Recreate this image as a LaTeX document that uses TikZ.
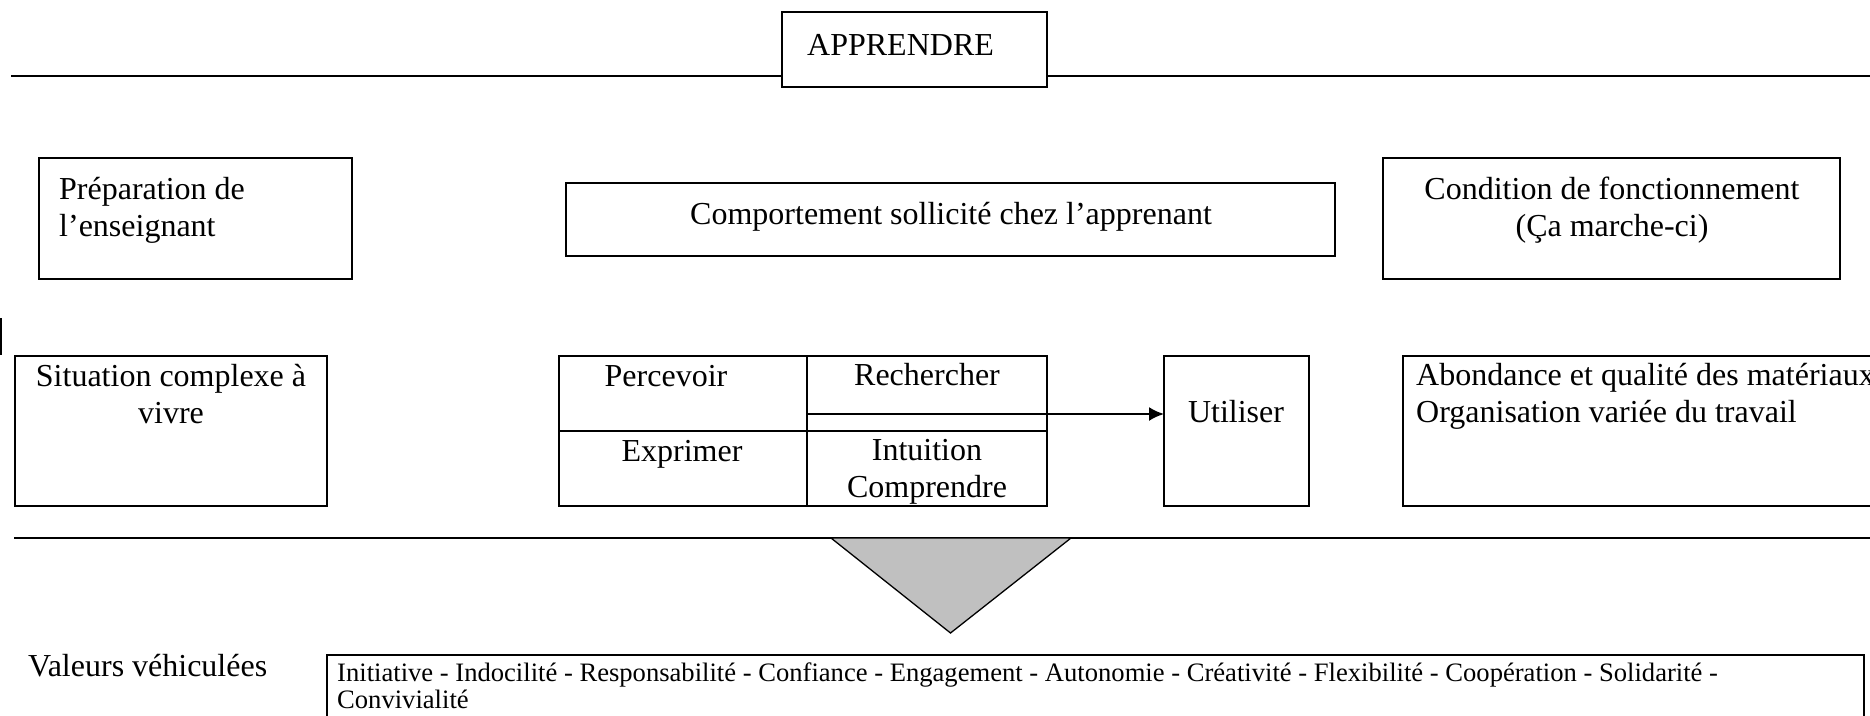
\documentclass[tikz,border=0pt]{standalone}
\usepackage{fontspec}
\setmainfont{Liberation Serif}
\usetikzlibrary{arrows.meta}
\definecolor{trigray}{HTML}{C0C0C0}
\begin{document}
\begin{tikzpicture}[x=1pt,y=-1pt,
  frame/.style={draw=black, line width=2pt, fill=white, inner sep=0pt, outer sep=0pt, anchor=north west},
  big/.style={font=\fontsize{32}{36.8}\selectfont, inner sep=0pt},
  small/.style={font=\fontsize{26.6}{27.3}\selectfont, inner sep=0pt},
  rule/.style={line width=2pt, draw=black},
]
\useasboundingbox (0,0) rectangle (1870,715);

% top rule and APPRENDRE box
\coordinate (topL) at (11,76);
\coordinate (topR) at (1875,76);
\node[frame, minimum width=265pt, minimum height=75pt] (apprbox) at (782,12) {};
\draw[rule] (topL) -- (apprbox.west |- topL);
\draw[rule] (apprbox.east |- topR) -- (topR);
\node[big, anchor=base west] (apprt) at (807,55) {APPRENDRE};

% second row boxes
\node[frame, minimum width=313pt, minimum height=121pt] (prepbox) at (38.5,158) {};
\node[frame, minimum width=769pt, minimum height=73pt] (compbox) at (566,183) {};
\node[frame, minimum width=457pt, minimum height=121pt] (condbox) at (1383,158) {};

\node[big, anchor=base west] (prep1) at (59,199) {Préparation de};
\node[big, anchor=base west] (prep2) at (59,236) {l’enseignant};
\node[big, anchor=base] (compt) at (951,224) {Comportement sollicité chez l’apprenant};
\node[big, anchor=base] (cond1) at (1612,199) {Condition de fonctionnement};
\node[big, anchor=base] (cond2) at (1612,236) {(Ça marche-ci)};

% small mark at left edge
\coordinate (markT) at (0.9,318);
\coordinate (markB) at (0.9,355);
\draw[line width=1.8pt] (markT) -- (markB);

% third row boxes
\node[frame, minimum width=312.5pt, minimum height=150pt] (sitbox) at (14.5,356) {};
\node[frame, minimum width=248pt, minimum height=75pt] (perc) at (559,356) {};
\node[frame, minimum width=240pt, minimum height=75pt] (rech) at (807,356) {};
\node[frame, minimum width=248pt, minimum height=75pt] (expr) at (559,431) {};
\node[frame, minimum width=240pt, minimum height=75pt] (intu) at (807,431) {};
\node[frame, minimum width=144.5pt, minimum height=150pt] (utilbox) at (1164,356) {};
\node[frame, minimum width=490pt, minimum height=150pt] (abonbox) at (1403,356) {};

\node[big, anchor=base] (sit1) at (171,386) {Situation complexe à};
\node[big, anchor=base] (sit2) at (171,423) {vivre};
\node[big, anchor=base] (perct) at (666,386) {Percevoir};
\node[big, anchor=base] (recht) at (927,385) {Rechercher};
\node[big, anchor=base] (exprt) at (682,461) {Exprimer};
\node[big, anchor=base] (intu1) at (927,460) {Intuition};
\node[big, anchor=base] (intu2) at (927,497) {Comprendre};
\node[big, anchor=base] (utilt) at (1236,422) {Utiliser};
\node[big, anchor=base west] (abon1) at (1416,385) {Abondance et qualité des matériaux};
\node[big, anchor=base west] (abon2) at (1416,422) {Organisation variée du travail};

% arrow from Rechercher cell to Utiliser
\coordinate (arrS) at (807,414);
\draw[line width=2pt, -{Latex[length=15pt,width=14pt]}] (arrS) -- (utilbox.west |- arrS);

% bottom rule and triangle
\coordinate (botL) at (14,538);
\coordinate (botR) at (1875,538);
\draw[rule] (botL) -- (botR);
\coordinate (triL) at (831,538);
\coordinate (triR) at (1071,538);
\coordinate (triA) at (950.5,633);
\draw[fill=trigray, line width=1.3pt, line join=miter] (triL) -- (triR) -- (triA) -- cycle;

% values
\node[big, anchor=base west] (valt) at (28,676) {Valeurs véhiculées};
\node[frame, minimum width=1537pt, minimum height=90pt] (valbox) at (327,655) {};
\node[small, anchor=base west] (vals1) at (337,681) {Initiative - Indocilité - Responsabilité - Confiance - Engagement - Autonomie - Créativité - Flexibilité - Coopération - Solidarité -};
\node[small, anchor=base west] (vals2) at (337,708) {Convivialité};
\end{tikzpicture}
\end{document}
